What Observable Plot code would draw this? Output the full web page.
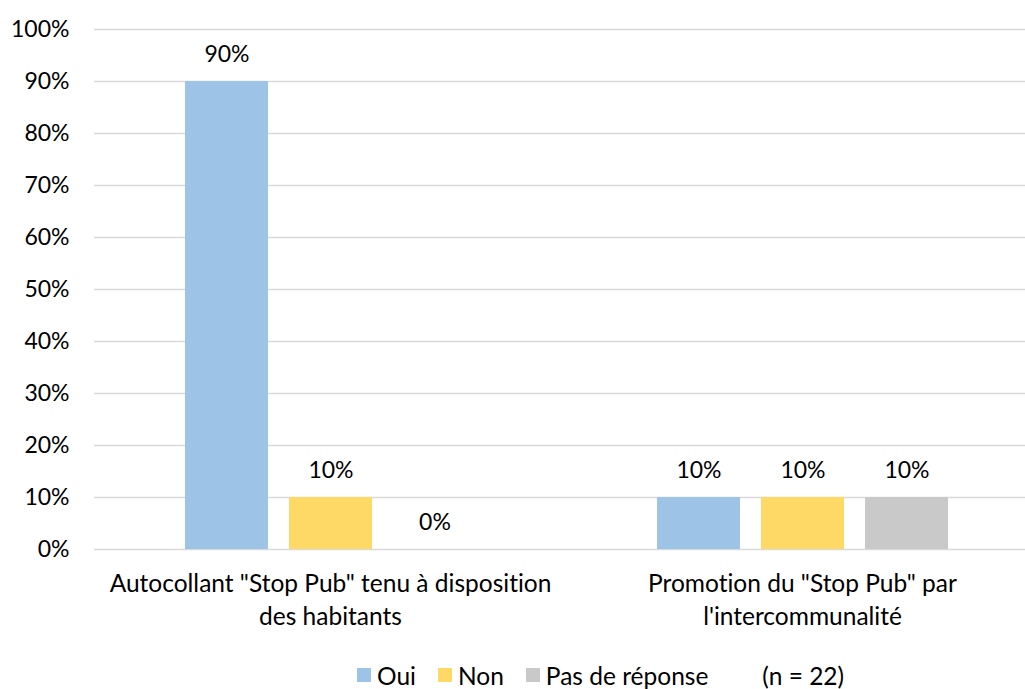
<!DOCTYPE html>
<html>
<head>
<meta charset="utf-8">
<script src="https://cdn.jsdelivr.net/npm/d3@7"></script>
<script src="https://cdn.jsdelivr.net/npm/@observablehq/plot@0.6"></script>
<style>
  html, body { margin: 0; padding: 0; background: #fff; overflow: hidden; }
  #wrap { position: relative; width: 1025px; height: 689px; font-family: Lato, "Liberation Sans", sans-serif; font-variant-ligatures: none; }
  #wrap svg text { font-variant-ligatures: none; }
  #legend { position: absolute; left: 357px; top: 660px; height: 30px; display: flex; align-items: center; font-size: 24.5px; color: #000; }
  .item { display: flex; align-items: center; margin-right: 22px; }
  .sw { width: 14px; height: 14px; margin-right: 6px; }
  .note { margin-left: 32px; }
</style>
</head>
<body>
<div id="wrap"><div id="chart"></div><div id="legend"></div></div>
<script>
const categories = ['Autocollant "Stop Pub" tenu à disposition des habitants', 'Promotion du "Stop Pub" par l\'intercommunalité'];
const categoryLabels = ['Autocollant "Stop Pub" tenu à disposition\ndes habitants', 'Promotion du "Stop Pub" par\nl\'intercommunalité'];
const series = ["Oui", "Non", "Pas de réponse"];
const oui = [90, 10];
const non = [10, 10];
const pasDeReponse = [0, 10];
const colors = ["#9DC3E6", "#FFD966", "#C9C9C9"];
const yTicks = [0, 10, 20, 30, 40, 50, 60, 70, 80, 90, 100];
const sampleNote = "(n = 22)";

const values = [oui, non, pasDeReponse];
const data = [];
categories.forEach((c, i) => series.forEach((s, j) => data.push({cat: c, series: s, value: values[j][i]})));
const labelData = categories.map((c, i) => ({cat: c, label: categoryLabels[i]}));

const plot = Plot.plot({
  width: 1025,
  height: 645,
  marginTop: 29,
  marginBottom: 96,
  marginLeft: 94,
  marginRight: 0,
  style: {fontFamily: "Lato, 'Liberation Sans', sans-serif", fontSize: "23px", color: "#000", background: "#fff", fontVariantLigatures: "none"},
  fx: {domain: categories, range: [94, 1038], padding: 0, axis: null, label: null},
  x: {domain: series, paddingInner: 0.206, paddingOuter: 0.861, axis: null, label: null},
  y: {domain: [0, 100], ticks: yTicks, tickFormat: d => d + "%", tickSize: 0, tickPadding: 25, label: null},
  color: {domain: series, range: colors},
  marks: [
    Plot.ruleY(yTicks, {stroke: "#D9D9D9", strokeWidth: 1.5}),
    Plot.barY(data, {fx: "cat", x: "series", y: "value", fill: "series"}),
    Plot.text(data, {fx: "cat", x: "series", y: "value", text: d => d.value + "%", dy: -27, fontSize: 23, fill: "#000"}),
    Plot.text(labelData, {fx: "cat", text: "label", frameAnchor: "bottom", lineAnchor: "top", dy: 19, lineHeight: 1.35, fontSize: 24.5, fill: "#000"})
  ]
});
document.getElementById("chart").appendChild(plot);

const legend = document.getElementById("legend");
series.forEach((s, j) => {
  const it = document.createElement("div");
  it.className = "item";
  const sw = document.createElement("div");
  sw.className = "sw";
  sw.style.background = colors[j];
  const t = document.createElement("span");
  t.textContent = s;
  it.appendChild(sw); it.appendChild(t);
  legend.appendChild(it);
});
const n = document.createElement("span");
n.className = "note";
n.textContent = sampleNote;
legend.appendChild(n);
</script>
</body>
</html>
